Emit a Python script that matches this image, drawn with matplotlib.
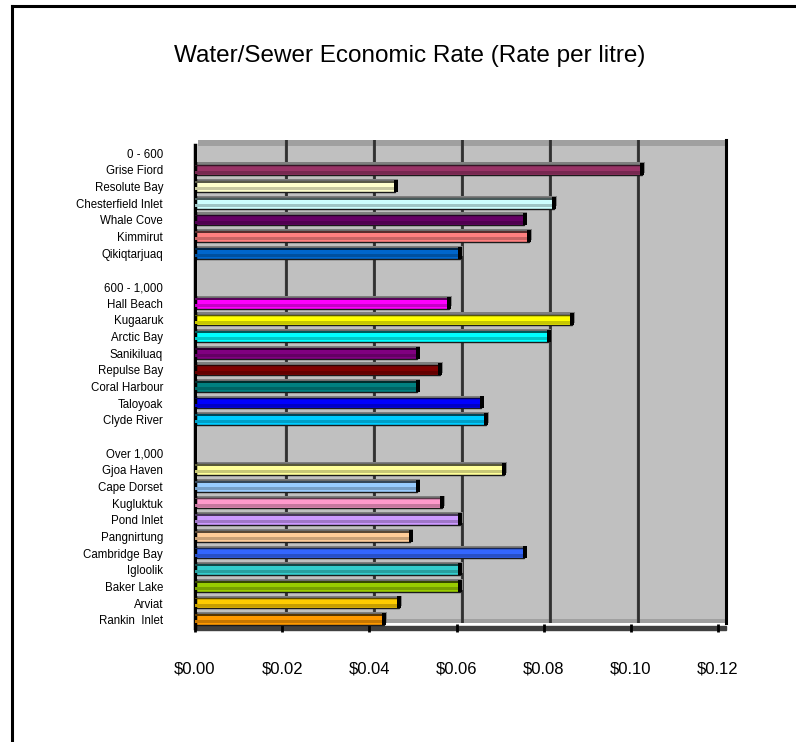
import numpy as np
import matplotlib
matplotlib.use('Agg')
import matplotlib.pyplot as plt
from matplotlib.patches import Rectangle
from matplotlib.lines import Line2D
from matplotlib.colors import to_rgb

plt.rcParams['font.family'] = ['Liberation Sans', 'DejaVu Sans']

# rows top to bottom; group headers and spacer rows have no bar
communities = ["0 - 600", "Grise Fiord", "Resolute Bay", "Chesterfield Inlet", "Whale Cove",
               "Kimmirut", "Qikiqtarjuaq", "",
               "600 - 1,000", "Hall Beach", "Kugaaruk", "Arctic Bay", "Sanikiluaq",
               "Repulse Bay", "Coral Harbour", "Taloyoak", "Clyde River", "",
               "Over 1,000", "Gjoa Haven", "Cape Dorset", "Kugluktuk", "Pond Inlet",
               "Pangnirtung", "Cambridge Bay", "Igloolik", "Baker Lake", "Arviat",
               "Rankin  Inlet"]
rates = [None, 0.1025, 0.0460, 0.0823, 0.0755, 0.0766, 0.0607, None,
         None, 0.0582, 0.0864, 0.0811, 0.0510, 0.0561, 0.0510, 0.0657, 0.0667, None,
         None, 0.0708, 0.0510, 0.0566, 0.0607, 0.0494, 0.0756, 0.0607, 0.0607,
         0.0467, 0.0433]
bar_colors = [None, "#993366", "#FFFFCC", "#CCFFFF", "#660066", "#FF8080", "#0066CC", None,
              None, "#FF00FF", "#FFFF00", "#00FFFF", "#800080", "#800000", "#008080",
              "#0000FF", "#00CCFF", None,
              None, "#FFFF99", "#99CCFF", "#FF99CC", "#CC99FF", "#FFCC99", "#3366FF",
              "#33CCCC", "#99CC00", "#FFCC00", "#FF9900"]
x_ticks = [0.00, 0.02, 0.04, 0.06, 0.08, 0.10, 0.12]
tick_labels = ["$0.00", "$0.02", "$0.04", "$0.06", "$0.08", "$0.10", "$0.12"]

W, H = 796, 742
fig = plt.figure(figsize=(W / 100, H / 100), dpi=100)


def px_box(x0, y0, x1, y1):
    # pixel box (top-left origin) -> figure fraction rect
    return [x0 / W, 1 - y1 / H, (x1 - x0) / W, (y1 - y0) / H]


def shade(c, f):
    r, g, b = to_rgb(c)
    return (r * f, g * f, b * f)


# back wall (3D look)
wall = fig.add_axes(px_box(198, 140, 726, 623), zorder=0)
wall.set_facecolor('#c0c0c0')
wall.set_xlim(0, 0.12)
wall.set_ylim(0, 1)
for t in x_ticks[1:-1]:
    wall.axvline(t - 0.00025, color='#808080', lw=1.0)
    wall.axvline(t, color='#303030', lw=2.0)
wall.add_patch(Rectangle((0, 1 - 6 / 483), 1, 6 / 483, color='#a0a0a0',
                         transform=wall.transAxes, lw=0, zorder=0.5))
wall.add_patch(Rectangle((0, 0), 1, 4 / 483, color='#a0a0a0',
                         transform=wall.transAxes, lw=0, zorder=0.5))
for s in ['left', 'top', 'bottom']:
    wall.spines[s].set_visible(False)
wall.spines['right'].set_color('black')
wall.spines['right'].set_linewidth(2.2)
wall.set_xticks([])
wall.set_yticks([])

# floor edge
fig.patches.append(Rectangle((195 / W, 1 - 630 / H), (726 - 195) / W, 4 / H,
                             transform=fig.transFigure, color='#404040', zorder=0.5))

# front axes with the bars
ax = fig.add_axes(px_box(195, 145, 718, 628), zorder=2)
ax.patch.set_visible(False)
ax.set_xlim(0, 0.12)
ax.set_ylim(len(communities) - 0.5, -0.5)

dx = 0.12 / 523  # one pixel in data units
bh = 0.64
for i, (v, c) in enumerate(zip(rates, bar_colors)):
    if v is None:
        continue
    # depth shadow on the wall
    ax.add_patch(Rectangle((0, i - bh / 2 - 0.13), v + 3 * dx, bh, color='#7f7f7f', lw=0, zorder=1))
    # front face
    ax.add_patch(Rectangle((0, i - bh / 2), v, bh, facecolor=c, edgecolor='#1a1a1a',
                           lw=1.0, zorder=2))
    ax.add_patch(Rectangle((0, i + 0.04), v - dx, 0.18, facecolor=shade(c, 0.78), lw=0, zorder=3))
    ax.add_patch(Rectangle((0, i - bh / 2), v, 0.1, facecolor=shade(c, 0.35), lw=0, zorder=3))
    # end cap
    ax.add_patch(Rectangle((v - 1.5 * dx, i - bh / 2 - 0.08), 4 * dx, bh + 0.08,
                           color='black', lw=0, zorder=4))

ax.set_yticks(range(len(communities)))
ax.set_yticklabels(communities, fontsize=8.3)
ax.tick_params(axis='y', length=0, pad=23)
ax.set_xticks(x_ticks)
ax.set_xticklabels(tick_labels, fontsize=12)
ax.tick_params(axis='x', direction='inout', length=6, width=2, color='black', pad=21)

for s in ['top', 'right']:
    ax.spines[s].set_visible(False)
ax.spines['left'].set_color('black')
ax.spines['left'].set_linewidth(2.5)
ax.spines['bottom'].set_visible(False)

# title
fig.text(410 / W, 1 - 56 / H, "Water/Sewer Economic Rate (Rate per litre)",
         ha='center', va='center', fontsize=17.5)

# outer chart frame (left and top edges visible)
fig.lines.append(Line2D([12 / W, 12 / W], [0, 1 - 6 / H], transform=fig.transFigure,
                        color='black', lw=2.2))
fig.lines.append(Line2D([12 / W, 1], [1 - 6 / H, 1 - 6 / H], transform=fig.transFigure,
                        color='black', lw=2.2))

fig.savefig('out.png', dpi=100)
